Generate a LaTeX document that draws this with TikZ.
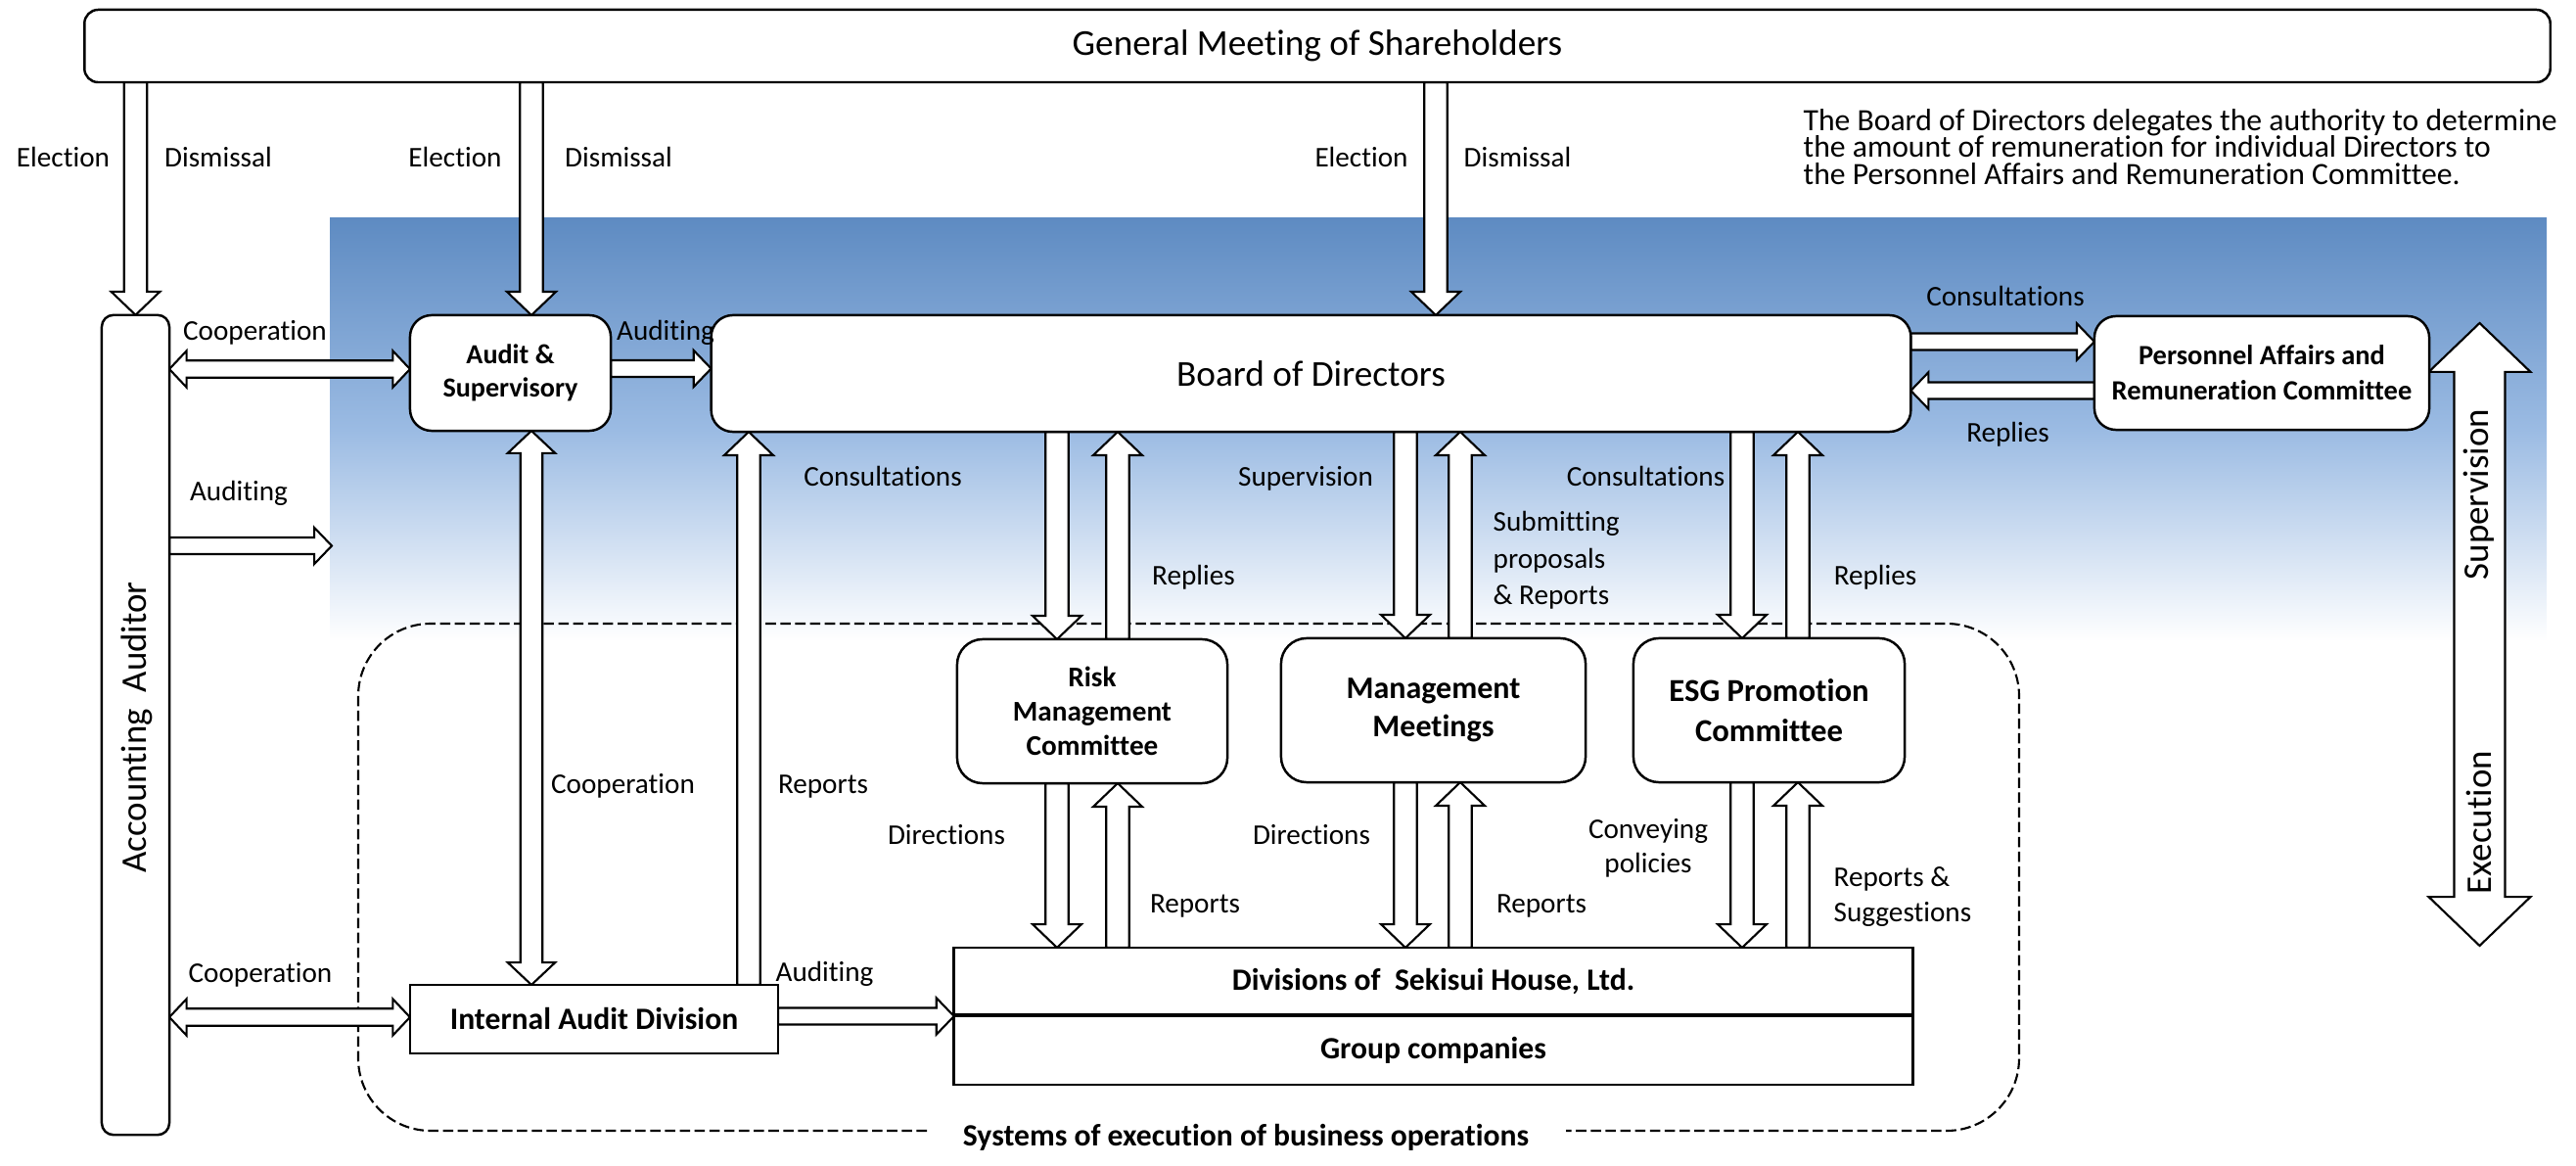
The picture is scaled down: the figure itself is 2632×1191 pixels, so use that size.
\documentclass[tikz,border=0pt]{standalone}
\usepackage{fontspec}
\setmainfont{Carlito}[Ligatures=NoCommon]
\usetikzlibrary{calc}
\pgfdeclarelayer{bg}
\pgfdeclarelayer{arr}
\pgfsetlayers{bg,arr,main}
\definecolor{topblue}{RGB}{94,139,194}
\definecolor{midblue}{RGB}{155,187,227}

\newcommand\baGet[2]{%
  \path let \p1=(#1), \p2=(#2) in
    \pgfextra{%
      \pgfmathsetmacro\baTmpA{atan2(\y2-\y1,\x2-\x1)}\global\let\baAng\baTmpA
      \pgfmathsetmacro\baTmpL{veclen(\x2-\x1,\y2-\y1)}\global\let\baLen\baTmpL
      \xdef\baX{\x1}\xdef\baY{\y1}};}
% single block arrow: from, to, half shaft, half head, head length
\newcommand\sarrow[5]{%
  \baGet{#1}{#2}%
  \begin{scope}[shift={(\baX,\baY)}, rotate=\baAng]
    \draw[blk] (0pt,#3) -- ({\baLen pt-#5},#3) -- ({\baLen pt-#5},#4) -- (\baLen pt,0pt)
      -- ({\baLen pt-#5},-#4) -- ({\baLen pt-#5},-#3) -- (0pt,-#3) -- cycle;
  \end{scope}}
% double block arrow
\newcommand\darrow[5]{%
  \baGet{#1}{#2}%
  \begin{scope}[shift={(\baX,\baY)}, rotate=\baAng]
    \draw[blk] (#5,#3) -- ({\baLen pt-#5},#3) -- ({\baLen pt-#5},#4) -- (\baLen pt,0pt)
      -- ({\baLen pt-#5},-#4) -- ({\baLen pt-#5},-#3) -- (#5,-#3) -- (#5,-#4) -- (0pt,0pt) -- (#5,#4) -- cycle;
  \end{scope}}
\newcommand\arrV[2]{\sarrow{#1}{#2}{3.35pt}{7.1pt}{6.8pt}}
\newcommand\arrVV[2]{\darrow{#1}{#2}{3.2pt}{6.9pt}{6.5pt}}
\newcommand\arrH[2]{\sarrow{#1}{#2}{2.42pt}{5.3pt}{5.1pt}}
\newcommand\arrHH[2]{\darrow{#1}{#2}{2.5pt}{5.3pt}{5pt}}
\newcommand\arrBig[2]{\darrow{#1}{#2}{7.4pt}{14.8pt}{14.2pt}}

\tikzset{
  box/.style={draw, fill=white, line width=0.7pt, inner sep=0pt, outer sep=0pt, align=center},
  blk/.style={draw, fill=white, line width=0.6pt, line join=miter},
  lbl/.style={inner sep=0pt, font=\fontsize{8.3}{10}\selectfont, text height=1.5ex, text depth=.25ex},
  lblm/.style={inner sep=0pt, align=left},
  bigtxt/.style={font=\fontsize{10.6}{12}\selectfont},
  execregion/.style={line width=0.6pt, dash pattern=on 3pt off 1.3pt, rounded corners=0.74cm},
}

\begin{document}
\begin{tikzpicture}[x=0.01cm, y=-0.01cm]
\useasboundingbox (0,0) rectangle (2632,1191);

% ---------- boxes ----------
\node[box, bigtxt, rounded corners=0.14cm, minimum width=25.18cm, minimum height=0.74cm] (gm) at (1346,47) {General Meeting of Shareholders};
\node[box, rounded corners=0.12cm, minimum width=0.69cm, minimum height=8.37cm] (aa) at (138.5,740.5) {};
\node[rotate=90, inner sep=0pt, font=\fontsize{10.5}{12}\selectfont] (aatxt) at (140,743) {Accounting\ \ Auditor};
\node[box, rounded corners=0.22cm, minimum width=2.05cm, minimum height=1.18cm, font=\bfseries\fontsize{8}{9.8}\selectfont] (as) at (521.5,381) {Audit \&\\Supervisory};
\node[box, bigtxt, rounded corners=0.22cm, minimum width=12.25cm, minimum height=1.19cm] (bod) at (1339.5,381.5) {Board of Directors};
\node[box, rounded corners=0.22cm, minimum width=3.42cm, minimum height=1.16cm, font=\bfseries\fontsize{8.1}{10.2}\selectfont] (pa) at (2311,381) {Personnel Affairs and\\Remuneration Committee};
\node[box, rounded corners=0.26cm, minimum width=2.76cm, minimum height=1.47cm, font=\bfseries\fontsize{8.3}{10}\selectfont] (rm) at (1116,726.5) {Risk\\Management\\Committee};
\node[box, rounded corners=0.26cm, minimum width=3.11cm, minimum height=1.47cm, font=\bfseries\fontsize{9.1}{11}\selectfont] (mm) at (1464.5,725.5) {Management\\Meetings};
\node[box, rounded corners=0.26cm, minimum width=2.77cm, minimum height=1.47cm, font=\bfseries\fontsize{9.3}{11.8}\selectfont] (esg) at (1807.5,725.5) {ESG Promotion\\Committee};
\node[box, minimum width=9.79cm, minimum height=0.69cm, font=\bfseries\fontsize{9}{11}\selectfont] (div) at (1464.5,1002.5) {Divisions of\ \ Sekisui House, Ltd.};
\node[box, minimum width=9.79cm, minimum height=0.71cm, font=\bfseries\fontsize{9}{11}\selectfont] (grp) at (1464.5,1072.5) {Group companies};
\draw[line width=1.3pt] (div.south west) -- (div.south east);
\node[box, minimum width=3.76cm, minimum height=0.70cm, font=\bfseries\fontsize{9}{11}\selectfont] (ia) at (607,1041) {Internal Audit Division};
\node[inner sep=0pt, font=\bfseries\fontsize{9}{11}\selectfont] (sys) at (1273,1162) {Systems of execution of business operations};

\coordinate (bluein) at (339,557.5);
\coordinate (sv1) at (2533.5,330);
\coordinate (sv2) at (2533.5,966);

% ---------- background ----------
\begin{pgfonlayer}{bg}
\fill[top color=topblue, bottom color=white, middle color=midblue] (337,223) rectangle (2602,655);
\draw[execregion] (947,1155) -- (366,1155) -- (366,637) -- (2063,637) -- (2063,1155) -- (1600,1155);
\end{pgfonlayer}

% ---------- block arrows ----------
\begin{pgfonlayer}{arr}
\arrV{aa.north |- gm.south}{aa.north}
\arrV{543,0 |- gm.south}{543,0 |- as.north}
\arrV{1467,0 |- gm.south}{1467,0 |- bod.north}
\arrHH{aa.east |- 0,377}{as.west |- 0,377}
\arrH{as.east |- 0,376.5}{bod.west |- 0,376.5}
\arrH{bod.east |- 0,349}{pa.west |- 0,349}
\arrH{pa.west |- 0,399}{bod.east |- 0,399}
\arrH{aa.east |- bluein}{bluein}
\arrVV{543,0 |- as.south}{543,0 |- ia.north}
\arrV{765,0 |- ia.north}{765,0 |- bod.south}
\arrV{1080,0 |- bod.south}{1080,0 |- rm.north}
\arrV{1142,0 |- rm.north}{1142,0 |- bod.south}
\arrV{1436,0 |- bod.south}{1436,0 |- mm.north}
\arrV{1492,0 |- mm.north}{1492,0 |- bod.south}
\arrV{1780,0 |- bod.south}{1780,0 |- esg.north}
\arrV{1837,0 |- esg.north}{1837,0 |- bod.south}
\arrV{1080,0 |- rm.south}{1080,0 |- div.north}
\arrV{1142,0 |- div.north}{1142,0 |- rm.south}
\arrV{1436,0 |- mm.south}{1436,0 |- div.north}
\arrV{1492,0 |- div.north}{1492,0 |- mm.south}
\arrV{1780,0 |- esg.south}{1780,0 |- div.north}
\arrV{1837,0 |- div.north}{1837,0 |- esg.south}
\arrHH{aa.east |- 0,1039}{ia.west |- 0,1039}
\arrH{ia.east |- 0,1038}{div.west |- 0,1038}
\arrBig{sv1}{sv2}
\end{pgfonlayer}

% ---------- labels ----------
\node[lbl] (l1) at (64.5,160) {Election};
\node[lbl] (l2) at (223,160) {Dismissal};
\node[lbl] (l3) at (465,160) {Election};
\node[lbl] (l4) at (632,160) {Dismissal};
\node[lbl] (l5) at (1391,160) {Election};
\node[lbl] (l6) at (1550.5,160) {Dismissal};
\node[lblm, anchor=west, font={\fontsize{9}{7.8}\selectfont\lineskiplimit=-20pt}] (note) at (1842,150)
  {The Board of Directors delegates the authority to determine\\the amount of remuneration for individual Directors to\\the Personnel Affairs and Remuneration Committee.};
\node[lbl] (l7) at (260.5,337) {Cooperation};
\node[lbl] (l8) at (680,337) {Auditing};
\node[lbl] (l9) at (2049,302) {Consultations};
\node[lbl] (l10) at (2051.5,441) {Replies};
\node[lbl] (l11) at (244,501) {Auditing};
\node[lbl] (l12) at (902,486) {Consultations};
\node[lbl] (l13) at (1334,486) {Supervision};
\node[lbl] (l14) at (1681.5,486) {Consultations};
\node[lbl] (l15) at (1219.5,587) {Replies};
\node[lblm, anchor=west, font=\fontsize{8.3}{10.7}\selectfont] (l16) at (1525,572.5) {Submitting\\proposals\\\& Reports};
\node[lbl] (l17) at (1916,587) {Replies};
\node[lbl] (l18) at (636.5,800.5) {Cooperation};
\node[lbl] (l19) at (841,800.5) {Reports};
\node[lbl] (l20) at (967,852) {Directions};
\node[lbl] (l21) at (1221,922) {Reports};
\node[lbl] (l22) at (1340,852) {Directions};
\node[lbl] (l23) at (1575,922) {Reports};
\node[lblm, align=center, font=\fontsize{8.3}{10}\selectfont] (l24) at (1684,866.5) {Conveying\\policies};
\node[lblm, anchor=west, font=\fontsize{8.3}{10.2}\selectfont] (l25) at (1873,916) {Reports \&\\Suggestions};
\node[lbl] (l26) at (266,992.5) {Cooperation};
\node[lbl] (l27) at (842.5,992) {Auditing};
\node[rotate=90, inner sep=0pt, font=\fontsize{10.5}{12}\selectfont] (sup) at (2533,505) {Supervision};
\node[rotate=90, inner sep=0pt, font=\fontsize{10.5}{12}\selectfont] (exe) at (2533,840) {Execution};
\end{tikzpicture}
\end{document}
